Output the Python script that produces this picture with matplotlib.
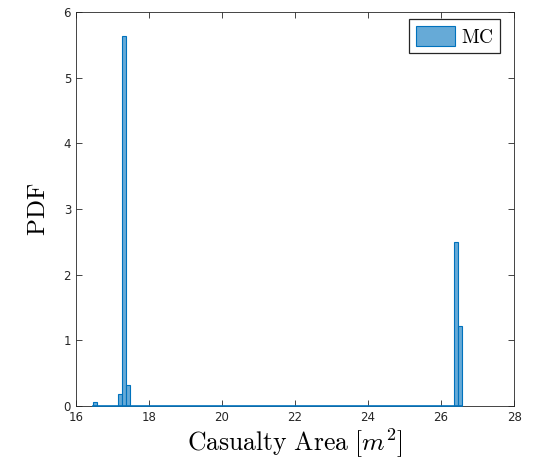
import numpy as np
import matplotlib.pyplot as plt

# histogram bins (bin centres, PDF heights)
bin_centers = [16.52, 17.21, 17.32, 17.43, 26.40, 26.51]
pdf_values = [0.06, 0.18, 5.63, 0.32, 2.50, 1.22]
bin_width = 0.11
x_ticks = [16, 18, 20, 22, 24, 26, 28]
y_ticks = [0, 1, 2, 3, 4, 5, 6]

plt.rcParams['mathtext.fontset'] = 'cm'

fig = plt.figure(figsize=(5.35, 4.68), dpi=100)
ax = fig.add_axes([0.142, 0.1325, 0.819, 0.8415])

face = (0.4, 0.668, 0.845)
edge = (0.0, 0.447, 0.741)

ax.bar(bin_centers, pdf_values, width=bin_width, color=face, edgecolor=edge,
       linewidth=0.8, label=r'$\mathrm{MC}$', zorder=3)
# empty bins drawn by the histogram along the baseline
ax.plot([bin_centers[0] - bin_width / 2, bin_centers[-1] + bin_width / 2], [0, 0],
        color=edge, linewidth=1.2, zorder=4, clip_on=False)

ax.set_xlim(16, 28)
ax.set_ylim(0, 6)
ax.set_xticks(x_ticks)
ax.set_yticks(y_ticks)
ax.tick_params(direction='in', top=True, right=True, length=4, width=0.6,
               labelsize=8.5, colors='#262626')
for s in ax.spines.values():
    s.set_color('#262626')
    s.set_linewidth(0.6)

ax.set_xlabel(r'$\mathrm{Casualty\ Area}\ [m^2]$', fontsize=18.5, labelpad=2)
ax.set_ylabel(r'$\mathrm{PDF}$', fontsize=18, labelpad=10)

leg = ax.legend(loc='upper right', bbox_to_anchor=(0.968, 0.982), fontsize=14,
                fancybox=False, edgecolor='#262626', framealpha=1,
                handlelength=2.0, handleheight=1.2, borderpad=0.35,
                handletextpad=0.3, borderaxespad=0)
leg.get_frame().set_linewidth(0.9)

plt.savefig('out.png', dpi=100)
